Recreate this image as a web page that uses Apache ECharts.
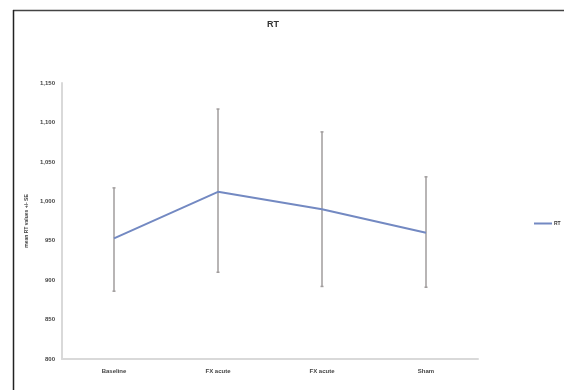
<!DOCTYPE html>
<html><head><meta charset="utf-8">
<script src="https://cdn.jsdelivr.net/npm/echarts@6/dist/echarts.min.js"></script>
<style>html,body{margin:0;padding:0;background:#fff}#c{width:564px;height:390px}</style>
</head><body><div id="c"></div>
<script>
var categories = ['Baseline', 'FX acute', 'FX acute', 'Sham'];
var meanRT = [953, 1012, 990, 960];
var upperRT = [1017, 1117, 1088, 1031];
var lowerRT = [886, 910, 892, 891];
var yTicks = [800, 850, 900, 950, 1000, 1050, 1100, 1150];

var chart = echarts.init(document.getElementById('c'));
var errData = categories.map(function(c, i){ return [i, lowerRT[i], upperRT[i]]; });
chart.setOption({
  animation: false,
  title: { text: 'RT', left: 268, top: 15, textAlign: 'center',
    textStyle: { fontSize: 9, fontWeight: 'bold', color: '#333', fontFamily: 'Liberation Sans' } },
  legend: { left: 534, top: 221, padding: 0, itemWidth: 18, itemHeight: 2, itemGap: 0,
    data: [{ name: 'RT', icon: 'rect' }],
    textStyle: { fontSize: 5, fontWeight: 'bold', color: '#333', padding: [0,0,0,-3] } },
  grid: { left: 62, right: 86, top: 83, bottom: 31 },
  xAxis: { type: 'category', data: categories, boundaryGap: true,
    axisLine: { lineStyle: { color: '#d9d9d9', width: 2 } },
    axisTick: { show: false },
    axisLabel: { fontSize: 6, fontWeight: 'bold', color: '#444', margin: 9, fontFamily: 'Liberation Sans' } },
  yAxis: { type: 'value', min: 800, max: 1150, interval: 50,
    name: 'mean RT values +/- SE', nameLocation: 'middle', nameGap: 33,
    nameTextStyle: { fontSize: 5, fontWeight: 'bold', color: '#444' },
    axisLine: { show: true, lineStyle: { color: '#d9d9d9', width: 2 } },
    axisTick: { show: false }, splitLine: { show: false },
    axisLabel: { fontSize: 6, fontWeight: 'bold', color: '#444', margin: 7, fontFamily: 'Liberation Sans',
      formatter: function(v){ return v >= 1000 ? Math.floor(v/1000) + ',' + String(v%1000).padStart(3,'0') : String(v); } } },
  series: [
    { name: 'RT', type: 'line', data: meanRT, symbol: 'none',
      lineStyle: { color: '#7389c2', width: 2 }, itemStyle: { color: '#7389c2' }, z: 3 },
    { name: 'err', type: 'custom', data: errData, z: 2,
      renderItem: function(params, api){
        var x = api.value(0);
        var lo = api.coord([x, api.value(1)]);
        var hi = api.coord([x, api.value(2)]);
        var style = { stroke: '#a09c9c', lineWidth: 1.5 };
        return { type: 'group', children: [
          { type: 'line', shape: { x1: lo[0], y1: lo[1], x2: hi[0], y2: hi[1] }, style: style },
          { type: 'line', shape: { x1: lo[0]-1.5, y1: lo[1], x2: lo[0]+1.5, y2: lo[1] }, style: style },
          { type: 'line', shape: { x1: hi[0]-1.5, y1: hi[1], x2: hi[0]+1.5, y2: hi[1] }, style: style }
        ]};
      } }
  ],
  graphic: [
    { type: 'line', shape: { x1: 13, y1: 10.5, x2: 564, y2: 10.5 }, style: { stroke: '#444', lineWidth: 1.5 } },
    { type: 'line', shape: { x1: 13.5, y1: 10, x2: 13.5, y2: 390 }, style: { stroke: '#222', lineWidth: 1.5 } }
  ]
});
</script></body></html>
